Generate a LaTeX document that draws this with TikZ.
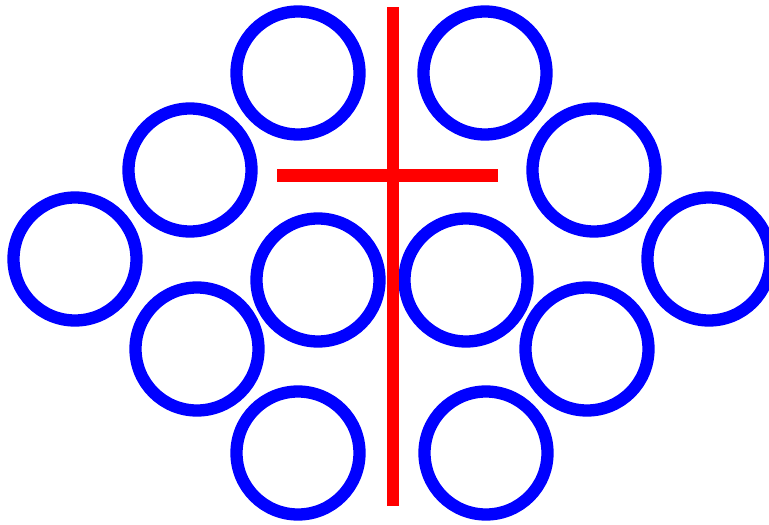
\documentclass[tikz,border=0pt]{standalone}
\usepackage{tikz}
\definecolor{ringBlue}{HTML}{0000FF}
\definecolor{crossRed}{HTML}{FF0000}

\begin{document}
\begin{tikzpicture}[
  x=1pt, y=-1pt,
  ring/.style={draw=ringBlue, line width=12.3pt},
  bar/.style={draw=crossRed, line width=12.3pt}
]
\useasboundingbox (0,0) rectangle (769,525);
% rings, left and right of the cross
\foreach \cx/\cy in {298/73, 485/73, 190/170, 594/170, 75/259, 709/259,
                     318/280, 466/280, 197/349, 587/349, 298/453, 486/453}
  \draw[ring] (\cx,\cy) circle (61.5);
% the cross
\coordinate (top) at (393,7);
\coordinate (bottom) at (393,506);
\coordinate (left) at (277,175.5);
\coordinate (right) at (498,175.5);
\draw[bar] (top) -- (bottom);
\draw[bar] (left) -- (right);
\end{tikzpicture}
\end{document}
